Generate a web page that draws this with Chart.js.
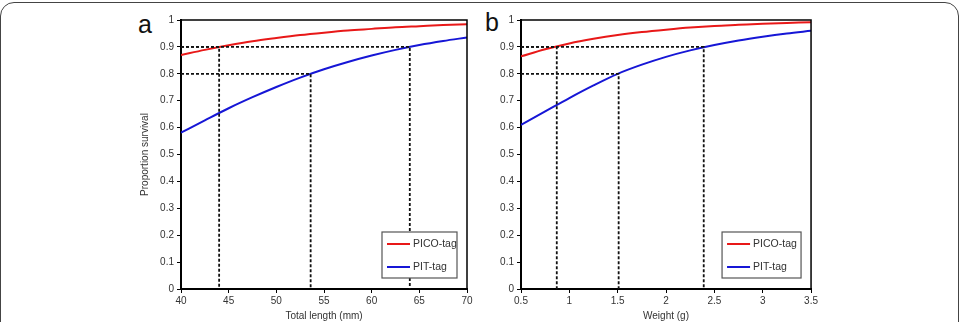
<!DOCTYPE html>
<html>
<head>
<meta charset="utf-8">
<script src="https://cdn.jsdelivr.net/npm/chart.js@4.4.1/dist/chart.umd.min.js"></script>
<style>
  html, body { margin: 0; padding: 0; background: #fff; width: 963px; height: 322px; overflow: hidden; }
  #frame { position: absolute; left: 0; top: 2px; width: 959px; height: 360px; box-sizing: border-box;
           border: 1.5px solid #444; border-radius: 14px; }
  .panel { position: absolute; top: 0; }
  .lab { position: absolute; font-family: "Liberation Sans", Arial, sans-serif; font-size: 25px; color: #111; line-height: 1; }
</style>
</head>
<body>
<div id="frame"></div>
<div class="lab" style="left:138px; top:12px;">a</div>
<div class="lab" style="left:485px; top:10px;">b</div>
<div class="panel" style="left:130px; width:345px; height:322px;"><canvas id="ca" width="345" height="322"></canvas></div>
<div class="panel" style="left:475px; width:345px; height:322px;"><canvas id="cb" width="345" height="322"></canvas></div>
<script>
// ---- data ----
const lengthMm      = [40, 42.5, 45, 47.5, 50, 52.5, 55, 57.5, 60, 62.5, 65, 67.5, 70];
const picoByLength  = [0.870, 0.889, 0.906, 0.921, 0.933, 0.944, 0.953, 0.961, 0.967, 0.973, 0.977, 0.981, 0.984];
const pitByLength   = [0.581, 0.627, 0.672, 0.713, 0.751, 0.786, 0.817, 0.844, 0.868, 0.889, 0.907, 0.922, 0.935];

const weightG       = [0.5, 0.75, 1.0, 1.25, 1.5, 1.75, 2.0, 2.25, 2.5, 2.75, 3.0, 3.25, 3.5];
const picoByWeight  = [0.865, 0.891, 0.913, 0.930, 0.944, 0.955, 0.964, 0.972, 0.978, 0.982, 0.986, 0.989, 0.992];
const pitByWeight   = [0.610, 0.660, 0.710, 0.757, 0.800, 0.834, 0.863, 0.887, 0.907, 0.924, 0.938, 0.950, 0.960];

// dashed reference lines: x where survival reaches the level
const refLevels     = [0.9, 0.8, 0.9];
const refLengthX    = [44, 53.6, 64];
const refWeightX    = [0.87, 1.51, 2.39];

const yTickLabels   = ['0', '0.1', '0.2', '0.3', '0.4', '0.5', '0.6', '0.7', '0.8', '0.9', '1'];
const lengthTicks   = [40, 45, 50, 55, 60, 65, 70];
const weightTicks   = ['0.5', '1', '1.5', '2', '2.5', '3', '3.5'];
const seriesNames   = ['PICO-tag', 'PIT-tag'];
const seriesColors  = ['rgb(232,24,24)', 'rgb(22,22,214)'];

const FONT = '"Liberation Sans", Arial, sans-serif';

function pts(xs, ys) { return xs.map((x, i) => ({ x: x, y: ys[i] })); }

function refDatasets(xs, xmin) {
  return xs.map((xr, i) => ({
    label: 'ref' + i,
    data: [{ x: xmin, y: refLevels[i] }, { x: xr, y: refLevels[i] }, { x: xr, y: 0 }],
    borderColor: '#111', borderWidth: 1.8, borderDash: [3, 2], pointRadius: 0, tension: 0, fill: false
  }));
}

const frameLegend = {
  id: 'frameLegend',
  afterDatasetsDraw(chart, args, opts) {
    const { ctx, chartArea: a } = chart;
    ctx.save();
    ctx.strokeStyle = '#000';
    ctx.lineWidth = 1.5;
    ctx.beginPath();
    ctx.moveTo(a.left, a.top); ctx.lineTo(a.right, a.top); ctx.lineTo(a.right, a.bottom);
    ctx.stroke();
    // legend box
    const w = opts.w, h = 46;
    const x0 = a.right - 10 - w, y0 = a.bottom - 11 - h;
    ctx.fillStyle = '#fff';
    ctx.fillRect(x0, y0, w, h);
    ctx.strokeStyle = '#555';
    ctx.lineWidth = 1.2;
    ctx.strokeRect(x0, y0, w, h);
    ctx.font = '10.5px ' + FONT;
    ctx.textBaseline = 'middle';
    seriesNames.forEach((n, i) => {
      const yy = y0 + 12 + i * 23;
      ctx.strokeStyle = seriesColors[i];
      ctx.lineWidth = 2;
      ctx.beginPath(); ctx.moveTo(x0 + 5, yy); ctx.lineTo(x0 + 28, yy); ctx.stroke();
      ctx.fillStyle = '#333';
      ctx.fillText(n, x0 + 31, yy);
    });
    ctx.restore();
  }
};

function makeChart(id, xs, pico, pit, refX, xTicks, xmin, xmax, yAxisW, yTitle, xTitle, legW) {
  const datasets = [
    ...refDatasets(refX, xmin),
    { label: seriesNames[0], data: pts(xs, pico), borderColor: seriesColors[0], borderWidth: 2, pointRadius: 0, cubicInterpolationMode: 'monotone', fill: false },
    { label: seriesNames[1], data: pts(xs, pit), borderColor: seriesColors[1], borderWidth: 2, pointRadius: 0, cubicInterpolationMode: 'monotone', fill: false }
  ];
  return new Chart(document.getElementById(id), {
    type: 'line',
    data: { datasets },
    plugins: [frameLegend],
    options: {
      responsive: false, animation: false, devicePixelRatio: 1,
      layout: { padding: { top: 20, right: 8, left: 0, bottom: 0 } },
      plugins: { legend: { display: false }, tooltip: { enabled: false }, frameLegend: { w: legW } },
      scales: {
        x: {
          type: 'linear', min: xmin, max: xmax,
          afterBuildTicks: s => { s.ticks = xTicks.map(v => ({ value: Number(v) })); },
          afterFit: s => { s.height = 33; },
          ticks: { font: { family: FONT, size: 10 }, color: '#333', padding: 2, maxRotation: 0,
                   callback: (v) => { const i = xTicks.findIndex(t => Number(t) === v); return i >= 0 ? String(xTicks[i]) : ''; } },
          grid: { display: true, drawOnChartArea: false, drawTicks: true, tickLength: 4, color: '#000' },
          border: { display: true, color: '#000', width: 2 },
          title: { display: true, text: xTitle, font: { family: FONT, size: 10 }, color: '#333', padding: { top: 0, bottom: 0 } }
        },
        y: {
          type: 'linear', min: 0, max: 1,
          afterBuildTicks: s => { s.ticks = yTickLabels.map(v => ({ value: Number(v) })); },
          afterFit: s => { s.width = yAxisW; },
          ticks: { font: { family: FONT, size: 10 }, color: '#333', padding: 3,
                   callback: (v) => { const i = yTickLabels.findIndex(t => Math.abs(Number(t) - v) < 1e-9); return i >= 0 ? yTickLabels[i] : ''; } },
          grid: { display: true, drawOnChartArea: false, drawTicks: true, tickLength: 4, color: '#000' },
          border: { display: true, color: '#000', width: 2 },
          title: { display: !!yTitle, text: yTitle || '', font: { family: FONT, size: 10 }, color: '#333', padding: { top: 9, bottom: 0 } }
        }
      }
    }
  });
}

makeChart('ca', lengthMm, picoByLength, pitByLength, refLengthX, lengthTicks, 40, 70, 51, 'Proportion survival', 'Total length (mm)', 75);
makeChart('cb', weightG, picoByWeight, pitByWeight, refWeightX, weightTicks, 0.5, 3.5, 46, '', 'Weight (g)', 79);
</script>
</body>
</html>
